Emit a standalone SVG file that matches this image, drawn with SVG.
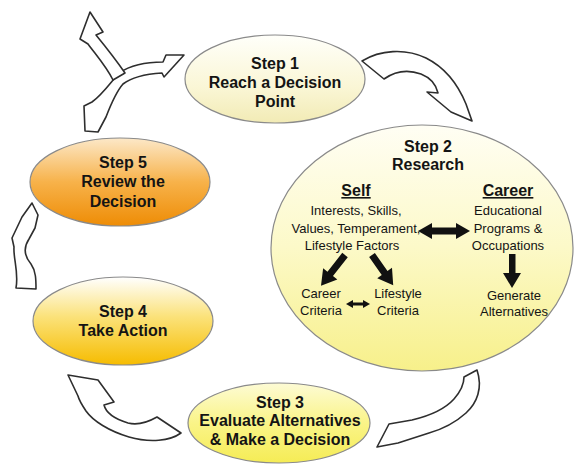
<svg xmlns="http://www.w3.org/2000/svg" width="574" height="465" viewBox="0 0 574 465">
<defs>
<linearGradient id="g1" x1="0" y1="0" x2="0" y2="1"><stop offset="0" stop-color="#FFFFFA"/><stop offset="0.6" stop-color="#FAF6D5"/><stop offset="1" stop-color="#F2EBB5"/></linearGradient>
<linearGradient id="g2" x1="0" y1="0" x2="0" y2="1"><stop offset="0" stop-color="#FFFEF4"/><stop offset="0.5" stop-color="#FCF9C8"/><stop offset="1" stop-color="#F7F08A"/></linearGradient>
<linearGradient id="g3" x1="0" y1="0" x2="0" y2="1"><stop offset="0" stop-color="#FDFBD5"/><stop offset="0.5" stop-color="#FAF488"/><stop offset="1" stop-color="#F5EC55"/></linearGradient>
<linearGradient id="g4" x1="0" y1="0" x2="0" y2="1"><stop offset="0" stop-color="#FFFFFF"/><stop offset="0.45" stop-color="#FBE27A"/><stop offset="1" stop-color="#F6BC00"/></linearGradient>
<linearGradient id="g5" x1="0" y1="0" x2="0" y2="1"><stop offset="0" stop-color="#FCE8C8"/><stop offset="0.5" stop-color="#F7B24A"/><stop offset="1" stop-color="#EE8C05"/></linearGradient>
</defs>
<style>
.el{stroke:#8a8a8a;stroke-width:1.2}
.t{font-family:"Liberation Sans",Arial,sans-serif;font-weight:bold;font-size:16px;fill:#141414;text-anchor:middle}
.s{font-family:"Liberation Sans",Arial,sans-serif;font-size:13px;fill:#141414;text-anchor:middle}
.h{font-family:"Liberation Sans",Arial,sans-serif;font-weight:bold;font-size:16px;fill:#141414;text-anchor:middle;text-decoration:underline}
.ca{fill:#ffffff;stroke:#2e2e2e;stroke-width:1.6;stroke-linejoin:round}
.ba{fill:#111111}
</style>
<rect width="574" height="465" fill="#ffffff"/>
<g id="connectors">
<path class="ca" d="M362,61 C380,50 405,48 426,58 C446,68 459,87 466,104 L472,121 L451,112 L427,92 L438,93 C436,84 431,78 421,74 C407,69 394,72 384,79 Z"/>
<path class="ca" d="M477,370 C483,388 477,403 466,413 C456,422 443,429 429,433 L398,443 L377,447 L389,424 L412,420 C429,416 445,409 454,399 C461,391 464,384 464,377 Z"/>
<path class="ca" d="M181,433 C170,441 150,443 129,437 C109,431 93,421 86,411 C82,405 79,400 78,396 L68,375 L98,380 L114,402 L104,405 C106,413 115,419 128,423 C140,426 150,421 157,417 Z"/>
<path class="ca" d="M16,288 C19,272 13,258 14,247 L12,238 L22,217 L32,203 L38,215 L35,228 L29,239 C23,248 25,257 31,264 C36,271 36,280 36,289 Z"/>
<path class="ca" d="M84,106 L85,131 L98,132 L106,117 C111,104 116,92 123,84 C132,77 146,74 162,73 L164,77 L184,55 L166,55 L163,62 C147,62 131,65 119,73 C111,82 102,95 92,102 Z"/>
<path class="ca" d="M113,80 C106,66 96,55 88,44 L80,39 L90,12 L103,32 L96,35 C105,46 116,60 125,73 Z"/>
</g>
<g id="step1">
<ellipse class="el" cx="275" cy="79" rx="90" ry="44" fill="url(#g1)"/>
<text class="t" x="275" y="69">Step 1</text>
<text class="t" x="275" y="88">Reach a Decision</text>
<text class="t" x="275" y="107">Point</text>
</g>
<g id="step2">
<ellipse class="el" cx="422" cy="248" rx="151" ry="123" fill="url(#g2)"/>
<text class="t" x="428" y="152">Step 2</text>
<text class="t" x="428" y="170">Research</text>
<text class="h" x="356" y="196">Self</text>
<text class="h" x="508" y="196">Career</text>
<text class="s" x="356" y="215">Interests, Skills,</text>
<text class="s" x="356" y="233">Values, Temperament,</text>
<text class="s" x="352" y="250">Lifestyle Factors</text>
<text class="s" x="508" y="215">Educational</text>
<text class="s" x="508" y="233">Programs &amp;</text>
<text class="s" x="508" y="250">Occupations</text>
<text class="s" x="321" y="298">Career</text>
<text class="s" x="321" y="315">Criteria</text>
<text class="s" x="398" y="298">Lifestyle</text>
<text class="s" x="398" y="315">Criteria</text>
<text class="s" x="514" y="300">Generate</text>
<text class="s" x="514" y="316">Alternatives</text>
<polygon class="ba" points="418,231 432,223 432,227.5 456,227.5 456,223 470,231 456,239 456,234.5 432,234.5 432,239"/>
<polygon class="ba" transform="translate(345,255) rotate(38)" points="-3.5,0 3.5,0 3.5,24 9,24 0,39 -9,24 -3.5,24"/>
<polygon class="ba" transform="translate(372,255) rotate(-35)" points="-3.5,0 3.5,0 3.5,22 9,22 0,37 -9,22 -3.5,22"/>
<polygon class="ba" points="509,254 515.5,254 515.5,273 521,273 512,288 503,273 509,273"/>
<polygon class="ba" points="346,304 353,300 353,302.5 363,302.5 363,300 370,304 363,308 363,305.5 353,305.5 353,308"/>
</g>
<g id="step3">
<ellipse class="el" cx="279" cy="423" rx="91" ry="40" fill="url(#g3)"/>
<text class="t" x="280" y="408">Step 3</text>
<text class="t" x="280" y="426">Evaluate Alternatives</text>
<text class="t" x="280" y="445">&amp; Make a Decision</text>
</g>
<g id="step4">
<ellipse class="el" cx="123" cy="321" rx="90" ry="44" fill="url(#g4)"/>
<text class="t" x="123" y="317">Step 4</text>
<text class="t" x="123" y="336">Take Action</text>
</g>
<g id="step5">
<ellipse class="el" cx="120" cy="182" rx="90" ry="44" fill="url(#g5)"/>
<text class="t" x="123" y="168">Step 5</text>
<text class="t" x="123" y="187">Review the</text>
<text class="t" x="123" y="207">Decision</text>
</g>
</svg>
